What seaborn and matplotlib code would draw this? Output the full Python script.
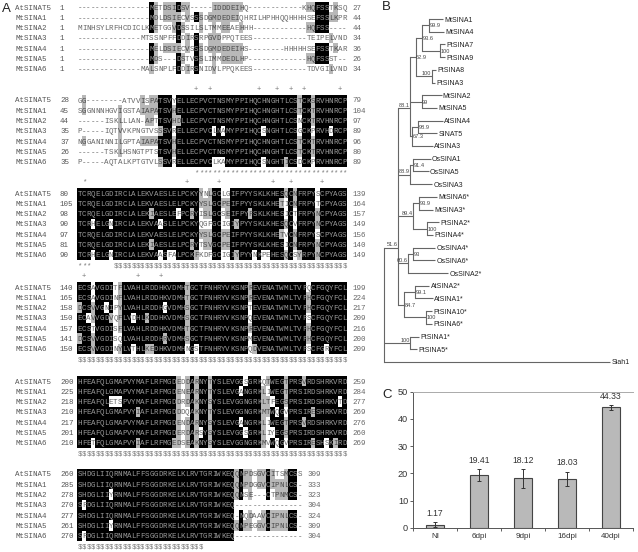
import matplotlib
matplotlib.use("Agg")
import matplotlib.pyplot as plt
from matplotlib.colors import ListedColormap
from collections import Counter
import numpy as np
import pandas as pd
import seaborn as sns

W, H = 638, 552
NAMES = ["AtSINAT5", "MtSINA1", "MtSINA2", "MtSINA3", "MtSINA4", "MtSINA5", "MtSINA6"]

BLOCK1 = ["----------------METDSIDSV-----IDDDEIHQ------------KHQFSSTKSQ",
          "----------------MDLDSIECVSSSDGMDEDEIQHRILHPHHQQHHHHSEFSSLKPR",
          "MINHSYLRFHCDICLKMETGGVDSSILSLTMMEEAEHHH------------HQFSS----",
          "--------------MTSSNPFFDDIRSRPGVDPPQTEES------------TEIPELVND",
          "----------------MELDSIECVSSSDGMDEDEIHS--------HHHHHSEFSSTKAR",
          "----------------MDS---DSTVSSLIMMDEDLHP-------------HQFSSST--",
          "--------------MALSNPLFDDIRSNIDVLPPQKEES------------TDVGILVND"]
BLOCK2 = ["GG--------ATVVISPATSVYELLECPVCTNSMYPPIHQCHNGHTLCSTCKSRVHNRCP",
          "SGGNNNHGVIGSTAIAPATSVHELLECPVCTNSMYPPIHQCHNGHTLCSTCKTRVHNRCP",
          "------ISKLLLAN-APTTSVHDLLECPVCTNSMYPPIHQCHNGHTLCSNCKTRVHNRCP",
          "P-----IQTVVKPNGTVSSSVRELLECPVCLNAMYPPIHQCSNGHTLCSGCKPRVHDRCP",
          "NGGANINNILGPTAIAPATSVHELLECPVCTNSMYPPIHQCHNGHTLCSTCKTRVHNRCP",
          "------TSKLHSNGTPTSTSVHELLECPVCTNSMYPPIHQCHNGHTLCSTCKTRVHNRCP",
          "P-----AQTALKPTGTVLSSVRELLECPVCLKAMYPPIHQCSNGHTICSDCKPRVHNRCP"]
BLOCK3 = ["TCRQELGDIRCLALEKVAESLELPCKYYNLGCLGIFPYYSKLKHESQCNFRPYSCPYAGS",
          "TCRQELGDIRCLALEKVAESLELPCKYYSLGCPEIFPYYSKLKHETICNFRPYTCPYAGS",
          "TCRQELGDIRCLALEKIAESLEFPCRYISLGCSEIFPYFSKLKHESICTFRPYNCPYAGS",
          "TCRHELGNIRCLALEKVAASLELPCKYQGFGCIGIYPYYSKLKHESQCVFRPYNCPYAGS",
          "TCRQELGDIRCLALEKVAESLELPCKYYSLGCPEIFPYYSKLKHETVCNFRPYSCPYAGS",
          "TCRQELGDIRCLALEKIAESLELPCRYTSVGCPEIFPYYSKLKHESICNFRPYNCPYAGS",
          "TCRHELGNIRCLALEKVAASFALPCKFKDFGCIGIYPYYNKPEHESQCSYRPYNCPYAGS"]
BLOCK4 = ["ECSAVGDITFLVAHLRDDHKVDMHTGCTFNHRYVKSNPREVENATWMLTVFQCFGQYFCL",
          "ECSAVGDINFLVAHLRDDHKVDMHTGCTFNHRYVKSNPREVENATWMLTVFHCFGQYFCL",
          "DCSVVGNIPYLVAHLRDDHGVDMHSGCTFNHRYVKSNPTEVENATWMLTVFHCFGQYFCL",
          "ECAVVGDVQFLVDHLKDDHKVDMHSGCTFNHRYVKSNPQEVENATWMLTVFSCFGQYFCL",
          "ECSTVGDISFLVAHLRDDHKVDMHTGCTFNHRYVKSNPREVENATWMLTVFHCFGQYFCL",
          "DCSVVGDISQLVAHLRDDHRVDMHSGCTFNHRYVKSNPMEVENATWMLTVFHCFGQYFCL",
          "ECSVVGDINYLVTHLKEDHKVDMHNGSTFNHRYVKSNPQDVENATWMLTVFSCFGRYFCL"]
BLOCK5 = ["HFEAFQLGMAPVYMAFLRFMGDEDDARNYTYSLEVGGSGRKQTWEGTPRSVRDSHRKVRD",
          "HFEAFQLGMAPVYMAFLRFMGDENEARNYTYSLEVGANGRKLIWEGTPRSIRDSHRKVRD",
          "HFEAFQLETSPVYMAFLRFMGDDRDAKNYSYSLEVGGNGRKLTFEGSPRSIRDSHRKVTD",
          "HFEAFQLGMAPVYIAFLRFMGDDDQAKNYTYSLEVGGNGRKMTWQGVPRSIRESHRKVRD",
          "HFEAFQLGMAPVYMAFLRFMGDENDARNYSYSLEVGANGRKLIWEGTPRSVRDSHRKVRD",
          "HFEAFQLGMAPVYMAFLRFMGDERDARSYSYSLEVGGSGRKLIYEGSPRSIRDSHRKVRD",
          "HFETFQLGMAPVYIAFLRFMGEDSEAKNYSYSLEVGGNGRKMVWQGVPRSIRESHSKIRD"]
BLOCK6 = ["SHDGLIIQRNMALFFSGGDRKELKLRVTGRIWKEQQNPDSGVCITSMCSS",
          "SHDGLIIQRNMALFFSGGDRKELKLRVTGRIWKEQQNPDGGVCIPNLCS-",
          "SHDGLIIYRNMALFFSGGDRKELKLRVTGRIWKEQQNSE---CTPNMCS-",
          "SFDGLIIQRNMALFFSGGDRKELKLRVTGRIWKEQ---------------",
          "SHDGLIIQRNMALFFSGGDRKELKLRVTGRIWKEQ-NQDAAVCIPNLCS-",
          "SHDGLIIYRNMALFFSGGDRKELKLRVTGRIWKEQQNPEGGVCIPNLCS-",
          "SFDGLIIQRNMALFFSGGDRKELKLRVTGRIWKEQ---------------"]
BLOCKS = [BLOCK1, BLOCK2, BLOCK3, BLOCK4, BLOCK5, BLOCK6]
STARTS = [[1, 1, 1, 1, 1, 1, 1], [28, 45, 44, 35, 37, 26, 35], [80, 105, 98, 90, 97, 81, 90],
          [140, 165, 158, 150, 157, 141, 150], [200, 225, 218, 210, 217, 201, 210],
          [260, 285, 278, 270, 277, 261, 270]]
ENDS = [[27, 44, 44, 34, 36, 26, 34], [79, 104, 97, 89, 96, 80, 89], [139, 164, 157, 149, 156, 140, 149],
        [199, 224, 217, 209, 216, 200, 209], [259, 284, 277, 269, 276, 260, 269],
        [309, 333, 323, 304, 324, 309, 304]]
ABOVE = [{}, {"+": [26, 29, 40, 44, 47, 50, 58]}, {"*": [1], "+": [24, 31, 43, 47, 54]},
         {"+": [1, 13, 18]}, {}, {}]
BELOW = [{}, {"*": list(range(26, 60))}, {"*": [0, 1, 2], "$": list(range(8, 60))},
         {"$": list(range(60))}, {"$": list(range(60))}, {"$": list(range(28))}]
FIRST_ROW_PX = [7, 100, 193, 287, 381, 474]

SIMILAR = ["DE", "KR", "ILVM", "ST", "FY", "NQ"]

TREE = (0, None, [
    (13.3, "51.6", [
        (12.3, "88.1", [
            (5.7, "62.9", [
                (6.7, "93.6", [
                    (7, "99.9", [(14, "MtSINA1"), (15, "MtSINA4")]),
                    (17.7, "100", [(5, "PtSINA7"), (5, "PtSINA9")])]),
                (16, "^100", [(4.3, "PtSINA8"), (3.3, "PtSINA3")])]),
            (11.7, "99", [(20, "MtSINA2"), (15.7, "MtSINA5")]),
            (2.3, "67.3", [
                (6, "98.9", [(24.3, "AtSINA4"), (19, "SINAT5")]),
                (20.3, "AtSINA3")])]),
        (12.3, "^88.9", [
            (3.3, "91.4", [(17.7, "OsSINA1"), (15.7, "OsSINA5")]),
            (22.3, "OsSINA3")]),
        (15.7, "^89.4", [
            (6, "93.9", [(18, "MtSINA6*"), (14, "MtSINA3*")]),
            (14, "100", [(12, "PtSINA2*"), (6, "PtSINA4*")])]),
        (10.7, "^60.6", [
            (5, "93", [(21.7, "OsSINA4*"), (21.7, "OsSINA6*")]),
            (40, "OsSINA2*")]),
        (6.7, "84.7", [
            (10.7, "99.1", [(14.3, "AtSINA2*"), (17.7, "AtSINA1*")]),
            (21.7, "100", [(6.3, "PtSINA10*"), (5.7, "PtSINA6*")])])]),
    (25.7, "^100", [(9.3, "PtSINA1*"), (6.7, "PtSINA5*")]),
    (225.7, "Siah1")])
NODE_ROW = {"51.6": 18.0, "88.1": 7.0}

STAGES = ["NI", "6dpi", "9dpi", "16dpi", "40dpi"]
VALUES = [1.17, 19.41, 18.12, 18.03, 44.33]
ERRORS = [0.8, 2.1, 3.4, 2.6, 0.9]
VALUE_LABELS = ["1.17", "19.41", "18.12", "18.03", "44.33"]

sns.set_theme(style="white")
plt.rcParams["font.family"] = ["Liberation Sans", "DejaVu Sans"]
fig = plt.figure(figsize=(W / 100, H / 100), dpi=100, facecolor="white")


def px_axes(x0, y0, x1, y1, **kw):
    return fig.add_axes([x0 / W, 1 - y1 / H, (x1 - x0) / W, (y1 - y0) / H], **kw)


canvas = px_axes(0, 0, W, H)
canvas.set_xlim(0, W)
canvas.set_ylim(H, 0)
canvas.axis("off")
for letter, x, y in [("A", 2, 7), ("B", 382, 6), ("C", 382, 393)]:
    canvas.text(x, y, letter, fontsize=9.5, color="#222222", ha="left", va="center_baseline")

# Panel A
CH = 4.49
ROW = 10.33
cmap = ListedColormap(["white", "#b8b8b8", "black"])
MONO = "Liberation Mono"
for b, seqs in enumerate(BLOCKS):
    ncol = max(len(s) for s in seqs)
    levels = np.zeros((7, ncol))
    for c in range(ncol):
        col = [s[c] if c < len(s) else "-" for s in seqs]
        counts = Counter(a for a in col if a != "-")
        if not counts:
            continue
        cons, n = counts.most_common(1)[0]
        for r, a in enumerate(col):
            if a == "-":
                continue
            if a == cons and n >= 5:
                levels[r, c] = 2
            elif a == cons and n >= 3:
                levels[r, c] = 1
            elif any(a in g and cons in g for g in SIMILAR) and n >= 3:
                levels[r, c] = 1
    x0 = 77.3
    y0 = FIRST_ROW_PX[b] - ROW / 2
    ax = px_axes(x0, y0, x0 + ncol * CH, y0 + 7 * ROW)
    sns.heatmap(levels, cmap=cmap, vmin=0, vmax=2, cbar=False, xticklabels=False,
                yticklabels=False, ax=ax, linewidths=0)
    ax.patch.set_alpha(0)
    for r, s in enumerate(seqs):
        for c, a in enumerate(s):
            color = {2: "#9a9a9a", 1: "#4a4a4a", 0: "#666666"}[int(levels[r, c])]
            ax.text(c + .5, r + .5, a, fontsize=5.4, family=MONO, color=color,
                    ha="center", va="center_baseline")
        yc = FIRST_ROW_PX[b] + r * ROW
        canvas.text(15, yc, NAMES[r], fontsize=5.4, family=MONO, color="#555555", ha="left", va="center_baseline")
        canvas.text(60, yc, str(STARTS[b][r]), fontsize=5.4, family=MONO, color="#555555", ha="left", va="center_baseline")
        canvas.text(x0 + ncol * CH + 5.5, yc, str(ENDS[b][r]), fontsize=5.4, family=MONO, color="#666666",
                    ha="left", va="center_baseline")
    for marks, row in [(ABOVE[b], -0.66), (BELOW[b], 7.47)]:
        for sym, cols in marks.items():
            for c in cols:
                ax.text(c + .5, row, sym, fontsize=5.2, family=MONO, color="#777777", ha="center",
                        va="center_baseline", clip_on=False)

# Panel B
LEAF_Y0 = 19
LEAF_DY = 12.7
ROOT_X = 384.3
TREE_C = "#666666"
leaf_i = [0]


def draw(node, x_parent):
    length, label = node[0], node[1]
    x = x_parent + length
    if len(node) == 2 and label is not None:
        row = leaf_i[0]
        leaf_i[0] += 1
        y = LEAF_Y0 + LEAF_DY * row
        canvas.plot([x_parent, x], [y, y], color=TREE_C, lw=0.8, solid_capstyle="butt")
        canvas.text(x + 1.2, y, label, fontsize=5.0, color="#222222", ha="left", va="center_baseline")
        return y
    ys = [draw(ch, x) for ch in node[2]]
    key = (label or "").strip("^")
    if key in NODE_ROW:
        y = LEAF_Y0 + LEAF_DY * NODE_ROW[key]
    else:
        y = (ys[0] + ys[-1]) / 2
    canvas.plot([x, x], [min(ys), max(ys)], color=TREE_C, lw=0.8, solid_capstyle="projecting")
    if length:
        canvas.plot([x_parent, x], [y, y], color=TREE_C, lw=0.8, solid_capstyle="butt")
    if label:
        if label.startswith("^") or label in ("51.6", "88.1"):
            canvas.text(x - 0.3, y - 0.3, key, fontsize=4.1, color="#444444", ha="right", va="bottom")
        else:
            canvas.text(x + 0.6, y, label, fontsize=4.1, color="#444444", ha="left", va="center_baseline")
    return y


draw(TREE, ROOT_X)

# Panel C
axc = px_axes(413, 391.7, 633, 527.7)
df = pd.DataFrame({"stage": STAGES, "value": VALUES})
sns.barplot(data=df, x="stage", y="value", color="#b9b9b9", saturation=1, width=0.4,
            edgecolor="#444444", linewidth=0.8, ax=axc)
axc.errorbar(range(len(VALUES)), VALUES, yerr=ERRORS, fmt="none", ecolor="#333333",
             elinewidth=0.7, capsize=1.6, capthick=0.7)
for i, (v, e, t) in enumerate(zip(VALUES, ERRORS, VALUE_LABELS)):
    axc.annotate(t, (i, v + e), xytext=(0, 3), textcoords="offset points", ha="center", va="bottom",
                 fontsize=6.2, color="#333333")
axc.set_xlim(-0.5, 4.5)
axc.set_ylim(0, 50)
axc.set_xlabel("")
axc.set_ylabel("")
axc.set_yticks([0, 10, 20, 30, 40, 50])
axc.set_xticks(np.arange(-0.5, 5, 1))
axc.set_xticklabels([])
axc.set_xticks(range(5), STAGES, minor=True)
axc.tick_params(axis="x", which="minor", length=0, labelsize=5.8, labelcolor="#333333", pad=4, bottom=True)
axc.tick_params(axis="x", which="major", length=2, width=0.6, color="#444444", bottom=True)
axc.tick_params(axis="y", length=2, width=0.6, color="#444444", labelsize=6.6, labelcolor="#333333", pad=1.5, left=True)
for s in ("left", "bottom"):
    axc.spines[s].set_color("#555555")
    axc.spines[s].set_linewidth(0.7)
axc.spines["top"].set_visible(True)
axc.spines["top"].set_color("#aaaaaa")
axc.spines["top"].set_linewidth(0.7)
axc.spines["right"].set_visible(False)

fig.savefig("out.png", dpi=100, facecolor="white")
